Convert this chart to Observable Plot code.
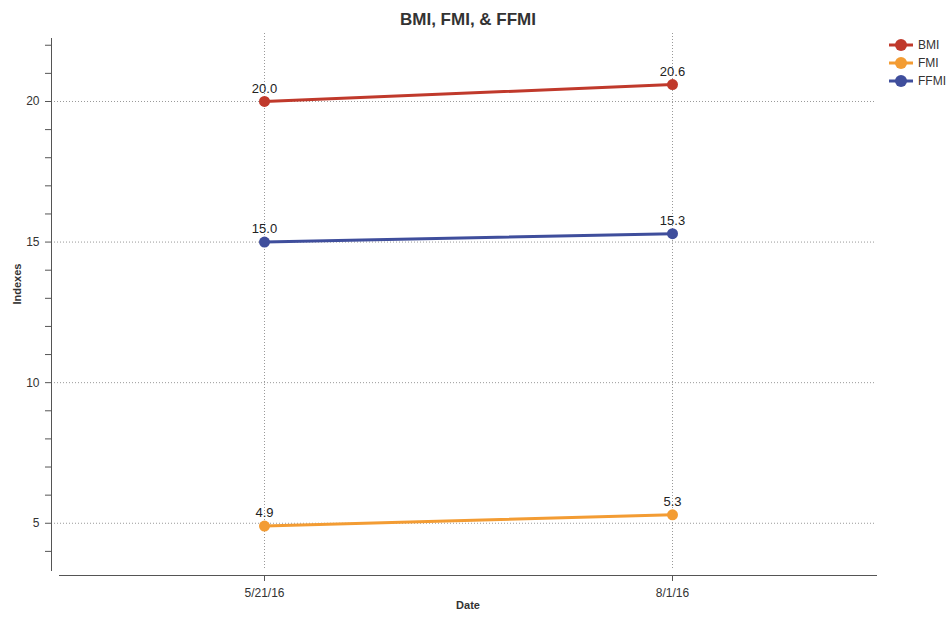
<!DOCTYPE html>
<html>
<head>
<meta charset="utf-8">
<script src="https://cdn.jsdelivr.net/npm/d3@7"></script>
<script src="https://cdn.jsdelivr.net/npm/@observablehq/plot@0.6"></script>
<style>
  html, body { margin: 0; padding: 0; background: #fff; }
  #wrap { position: relative; width: 952px; height: 620px; font-family: "Liberation Sans", Arial, sans-serif; }
  #legend { position: absolute; left: 888px; top: 36px; font-size: 12px; color: #333; }
  #legend .row { display: flex; align-items: center; height: 18px; }
  #legend svg { margin-right: 4px; }
</style>
</head>
<body>
<div id="wrap"><div id="legend"></div></div>
<script>
// Measurement dates
const dates = ["5/21/16", "8/1/16"];
// Index series
const seriesNames = ["BMI", "FMI", "FFMI"];
const bmi = [20.0, 20.6];
const fmi = [4.9, 5.3];
const ffmi = [15.0, 15.3];
const seriesColors = ["#c0392b", "#f39c33", "#3f4e9c"];
// Y axis tick values (labels shown every 5)
const yTicks = d3.range(4, 23);
const yLabelTicks = [5, 10, 15, 20];

const valuesBySeries = [bmi, fmi, ffmi];
const rows = seriesNames.flatMap((s, i) =>
  dates.map((d, j) => ({series: s, date: d, value: valuesBySeries[i][j]}))
);

const chart = Plot.plot({
  width: 952,
  height: 620,
  marginLeft: 59,
  marginRight: 76,
  marginTop: 38,
  marginBottom: 50,
  style: {fontFamily: "'Liberation Sans', Arial, sans-serif", fontSize: "12px", color: "#333", background: "transparent"},
  x: {type: "point", domain: dates, padding: 0.5, label: null},
  y: {domain: [3.32, 22.24], label: null},
  color: {domain: seriesNames, range: seriesColors},
  marks: [
    Plot.gridY(yLabelTicks, {stroke: "#999", strokeOpacity: 1, strokeDasharray: "1,2", insetLeft: -8}),
    Plot.gridX(dates, {stroke: "#999", strokeOpacity: 1, strokeDasharray: "1,2", insetTop: -5}),
    Plot.frame({anchor: "left", dx: -8, stroke: "#555"}),
    Plot.frame({anchor: "bottom", dy: 5, stroke: "#555"}),
    Plot.axisY(yTicks, {anchor: "left", dx: -8, tickSize: 6, tickPadding: 6, stroke: "#555", fill: "#333",
      tickFormat: d => (yLabelTicks.includes(d) ? String(d) : ""), label: null}),
    Plot.axisX({dy: 5, tickSize: 6, tickPadding: 7, stroke: "#555", fill: "#333", label: null}),
    Plot.line(rows, {x: "date", y: "value", z: "series", stroke: "series", strokeWidth: 3}),
    Plot.dot(rows, {x: "date", y: "value", fill: "series", r: 5.5}),
    Plot.text(rows, {x: "date", y: "value", text: d => d.value.toFixed(1), dy: -13, fill: "#222", fontSize: 13}),
    Plot.text(["Date"], {frameAnchor: "bottom", dy: 38, fontWeight: "bold", fontSize: 11, fill: "#333"}),
    Plot.text(["Indexes"], {frameAnchor: "left", rotate: -90, dx: -42, fontWeight: "bold", fontSize: 11, fill: "#333"}),
    Plot.text(["BMI, FMI, & FFMI"], {frameAnchor: "top", dy: -14, lineAnchor: "bottom", fontWeight: "bold", fontSize: 17, fill: "#333"})
  ]
});

const wrap = document.getElementById("wrap");
wrap.insertBefore(chart, wrap.firstChild);

// Legend
const legend = document.getElementById("legend");
seriesNames.forEach((s, i) => {
  const row = document.createElement("div");
  row.className = "row";
  row.innerHTML = `<svg width="26" height="14"><line x1="1" x2="25" y1="7" y2="7" stroke="${seriesColors[i]}" stroke-width="3"/><circle cx="13" cy="7" r="6" fill="${seriesColors[i]}"/></svg><span>${s}</span>`;
  legend.appendChild(row);
});
</script>
</body>
</html>
